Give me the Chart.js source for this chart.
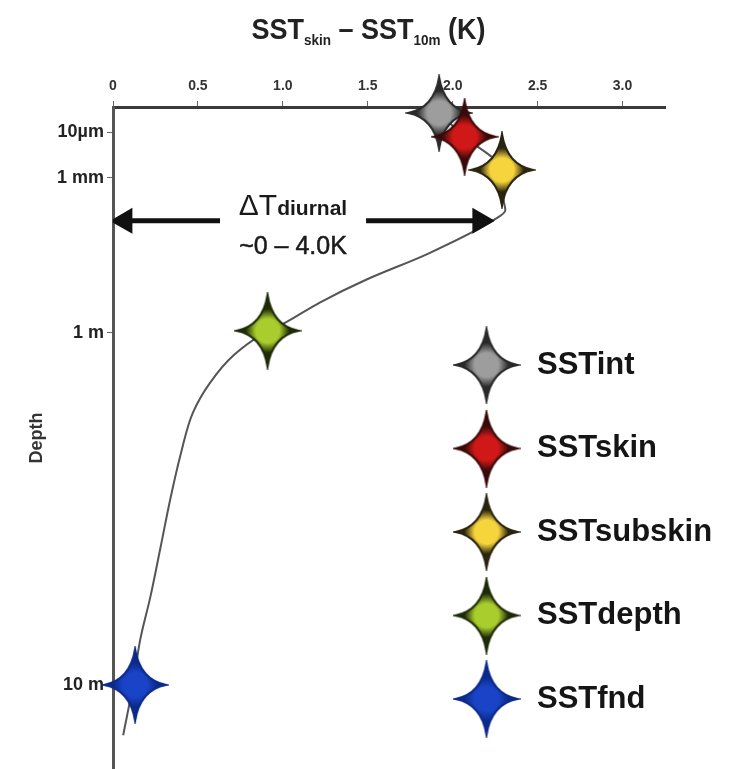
<!DOCTYPE html>
<html>
<head>
<meta charset="utf-8">
<script src="https://cdn.jsdelivr.net/npm/chart.js@4/dist/chart.umd.min.js"></script>
<style>
  html, body { margin: 0; padding: 0; background: #fff; overflow: hidden; }
  #wrap { position: relative; width: 731px; height: 769px; }
  .title {
    position: absolute; left: 0; top: 12px; width: 737px; text-align: center;
    font-family: "Liberation Sans", sans-serif; transform: scaleX(0.9);
    font-weight: bold; font-size: 30px; color: #222; white-space: nowrap;
  }
  .title sub { font-size: 15px; vertical-align: -6px; }
  .note {
    position: absolute; left: 193px; width: 200px; text-align: center;
    font-family: "Liberation Sans", sans-serif; color: #1a1a1a; white-space: nowrap;
  }
  .note1 { top: 188px; font-size: 30px; }
  .note1 span { font-size: 21px; font-weight: bold; }
  .note2 { top: 231px; font-size: 25px; -webkit-text-stroke: 0.5px #1a1a1a; }
</style>
</head>
<body>
<div id="wrap">
  <canvas id="chart"></canvas>
  <div class="title">SST<sub>skin</sub> – SST<sub>10m</sub> (K)</div>
  <div class="note note1">ΔT<span>diurnal</span></div>
  <div class="note note2">~0 – 4.0K</div>
</div>
<script>
// x = SST difference (K), y = depth position on the (schematic) depth axis, 0 = surface
const xTickValues = [0, 0.5, 1.0, 1.5, 2.0, 2.5, 3.0];
const xTickLabels = ["0", "0.5", "1.0", "1.5", "2.0", "2.5", "3.0"];
const depthTickPos = [3.8, 10.7, 34.1, 87.3];
const depthTickLabels = ["10µm", "1 mm", "1 m", "10 m"];

// temperature profile line
const curveX = [1.92, 2.07, 2.29, 2.30, 2.31, 2.24, 1.86, 1.49, 1.22, 1.02, 0.88, 0.71, 0.57, 0.47, 0.40, 0.34, 0.28, 0.22, 0.16, 0.12, 0.06];
const curveY = [0.9, 4.5, 9.5, 14.0, 15.6, 17.1, 22.1, 26.1, 29.5, 32.5, 34.3, 37.5, 41.7, 46.2, 52.3, 58.9, 66.5, 74.0, 80.5, 87.0, 94.9];

// SST definitions
const sstNames = ["SSTint", "SSTskin", "SSTsubskin", "SSTdepth", "SSTfnd"];
const sstX = [1.92, 2.07, 2.29, 0.91, 0.13];
const sstY = [0.9, 4.5, 9.5, 33.8, 87.3];
const sstFill = ["#9d9d9d", "#d01818", "#f6d43c", "#a9cd2c", "#1a44c8"];
const sstEdge = ["#2a2a2a", "#3a0a0a", "#2a2410", "#1f2a08", "#0c2a8a"];

// diurnal warming arrow
const arrowY = 17.2;
const arrowLeftX = [0.63, 0.07];
const arrowRightX = [1.49, 2.16];

// 4-point star used as point style
function makeStar(fill, edge) {
  const w = 31, h = 36, k = 5;
  const c = document.createElement("canvas");
  c.width = 2 * w + 6;
  c.height = 2 * h + 6;
  const g = c.getContext("2d");
  g.translate(c.width / 2, c.height / 2);
  g.beginPath();
  g.moveTo(0, -h);
  g.quadraticCurveTo(k, -k, w, 0);
  g.quadraticCurveTo(k, k, 0, h);
  g.quadraticCurveTo(-k, k, -w, 0);
  g.quadraticCurveTo(-k, -k, 0, -h);
  g.closePath();
  const grad = g.createRadialGradient(0, 0, 2, 0, 0, 22);
  grad.addColorStop(0, fill);
  grad.addColorStop(0.5, fill);
  grad.addColorStop(1, edge);
  g.fillStyle = grad;
  g.fill();
  g.lineWidth = 2;
  g.strokeStyle = edge;
  g.stroke();
  return c;
}

const datasets = [];
sstNames.forEach((name, i) => {
  datasets.push({
    label: name,
    data: [{ x: sstX[i], y: sstY[i] }],
    pointStyle: makeStar(sstFill[i], sstEdge[i]),
    pointRadius: 30,
    clip: false,
    order: 5 - i,
    inLegend: true
  });
});
datasets.push({
  label: "profile",
  data: curveX.map((x, i) => ({ x: x, y: curveY[i] })),
  indexAxis: "y",
  showLine: true,
  borderColor: "#555",
  borderWidth: 2,
  pointRadius: 0,
  cubicInterpolationMode: "monotone",
  order: 10
});
datasets.push({
  label: "arrowL",
  data: arrowLeftX.map(x => ({ x: x, y: arrowY })),
  showLine: true,
  borderColor: "#111",
  backgroundColor: "#111",
  borderWidth: 5,
  pointStyle: "triangle",
  pointRadius: [0, 10],
  pointRotation: -90,
  order: 9
});
datasets.push({
  label: "arrowR",
  data: arrowRightX.map(x => ({ x: x, y: arrowY })),
  showLine: true,
  borderColor: "#111",
  backgroundColor: "#111",
  borderWidth: 5,
  pointStyle: "triangle",
  pointRadius: [0, 10],
  pointRotation: 90,
  order: 9
});

// put the legend inside the plot, lower right
const legendSpot = {
  id: "legendSpot",
  afterLayout(chart) {
    const lg = chart.legend;
    lg.left = 399;
    lg.top = 295;
    lg.right = chart.width;
    lg.bottom = chart.height;
  }
};

const ctx = document.getElementById("chart").getContext("2d");
new Chart(ctx, {
  type: "scatter",
  data: { datasets },
  plugins: [legendSpot],
  options: {
    responsive: true,
    maintainAspectRatio: false,
    animation: false,
    layout: { autoPadding: false, padding: { top: 0, right: 66, bottom: 0, left: 0 } },
    plugins: {
      tooltip: { enabled: false },
      legend: {
        position: "chartArea",
        fullSize: false,
        labels: {
          usePointStyle: true,
          pointStyleWidth: 70,
          padding: 52.5,
          color: "#151515",
          font: { family: "Liberation Sans", size: 31, weight: "bold" },
          filter: (item, data) => !!data.datasets[item.datasetIndex].inLegend,
          sort: (a, b) => a.datasetIndex - b.datasetIndex
        }
      }
    },
    scales: {
      x: {
        type: "linear",
        position: "top",
        min: 0,
        max: 3.25,
        afterFit: s => { s.height = 107; },
        afterBuildTicks: s => { s.ticks = xTickValues.map(v => ({ value: v })); },
        border: { color: "#3a3a3a", width: 3 },
        grid: { drawOnChartArea: false, tickLength: 6, color: "#666" },
        ticks: {
          padding: 6,
          color: "#333",
          font: { family: "Liberation Sans", size: 14, weight: "bold" },
          callback: (v, i) => xTickLabels[i]
        }
      },
      y: {
        type: "linear",
        reverse: true,
        min: 0,
        max: 100,
        // the depth axis runs to the bottom edge of the picture
        afterFit: s => { s.width = 113; s.paddingTop = 0; s.paddingBottom = 0; },
        afterBuildTicks: s => { s.ticks = depthTickPos.map(v => ({ value: v })); },
        border: { color: "#555", width: 3 },
        grid: { drawOnChartArea: false, tickLength: 6, color: "#666" },
        ticks: {
          padding: 3,
          color: "#222",
          font: { family: "Liberation Sans", size: 18, weight: "bold" },
          callback: (v, i) => depthTickLabels[i]
        },
        title: {
          display: true,
          text: "Depth",
          color: "#333",
          padding: { top: 26, bottom: 0 },
          font: { family: "Liberation Sans", size: 18, weight: "bold" }
        }
      }
    }
  }
});
</script>
</body>
</html>
